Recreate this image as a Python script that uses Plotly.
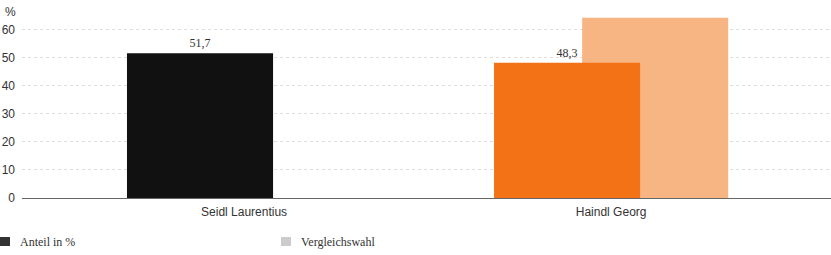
import plotly.graph_objects as go

categories = ["Seidl Laurentius", "Haindl Georg"]
anteil = [51.7, 48.3]
anteil_colors = ["#111111", "#f47216"]
vergleich_cats = ["Haindl Georg"]
vergleich = [64.3]
y_ticks = [0, 10, 20, 30, 40, 50, 60]
legend_labels = ["Anteil in %", "Vergleichswahl"]
legend_colors = ["#333333", "#cccccc"]

W, H = 831, 255
L, R, T, B = 22, 0, 10, 57
PW, PH = W - L - R, H - T - B


def px(x):
    return (x - L) / PW


def py(y):
    return (H - B - y) / PH


pos = {c: i for i, c in enumerate(categories)}
off = 0.12
bw = 0.398

fig = go.Figure()
fig.add_trace(go.Bar(
    x=[pos[c] + off for c in vergleich_cats], y=vergleich, width=bw,
    marker=dict(color="#f8b584", line=dict(width=0)), showlegend=False,
    hoverinfo="skip"))
fig.add_trace(go.Bar(
    x=[pos[c] - off for c in categories], y=anteil, width=bw,
    marker=dict(color=anteil_colors, line=dict(width=0)), showlegend=False,
    text=[f"{v:.1f}".replace(".", ",") for v in anteil],
    textposition="outside", cliponaxis=False,
    textfont=dict(family="Liberation Serif", size=12, color="#333"),
    hoverinfo="skip"))

fig.update_layout(
    width=W, height=H, margin=dict(l=L, r=R, t=T, b=B),
    paper_bgcolor="white", plot_bgcolor="white", barmode="overlay",
    showlegend=False,
    xaxis=dict(range=[-0.605, 1.599], tickvals=list(range(len(categories))),
               ticktext=categories, showgrid=False, zeroline=False,
               showline=True, linecolor="#666", linewidth=1,
               tickfont=dict(family="Liberation Sans", size=12, color="#333"),
               ticks="", ticklabelstandoff=3, fixedrange=True),
    yaxis=dict(range=[0, 67.1], tickvals=y_ticks, showgrid=True,
               gridcolor="#ddd", griddash="dot", gridwidth=1, zeroline=False,
               tickfont=dict(family="Liberation Sans", size=12, color="#333"),
               ticks="", ticklabelstandoff=6, fixedrange=True),
    font=dict(family="Liberation Sans"),
)

fig.add_annotation(x=px(3), y=py(12), xref="paper", yref="paper", text="%",
                   showarrow=False, xanchor="left", yanchor="middle",
                   font=dict(family="Liberation Sans", size=12, color="#333"))

legend_x = [0, 281]
for label, col, x0 in zip(legend_labels, legend_colors, legend_x):
    fig.add_shape(type="rect", xref="paper", yref="paper",
                  x0=px(x0), x1=px(x0 + 10), y0=py(246), y1=py(237),
                  line=dict(width=0), fillcolor=col)
    fig.add_annotation(x=px(x0 + 18), y=py(241.5), xref="paper", yref="paper",
                       text=label, showarrow=False, xanchor="left",
                       yanchor="middle",
                       font=dict(family="Liberation Serif", size=12,
                                 color="#333"))

fig.write_html("out.html")
